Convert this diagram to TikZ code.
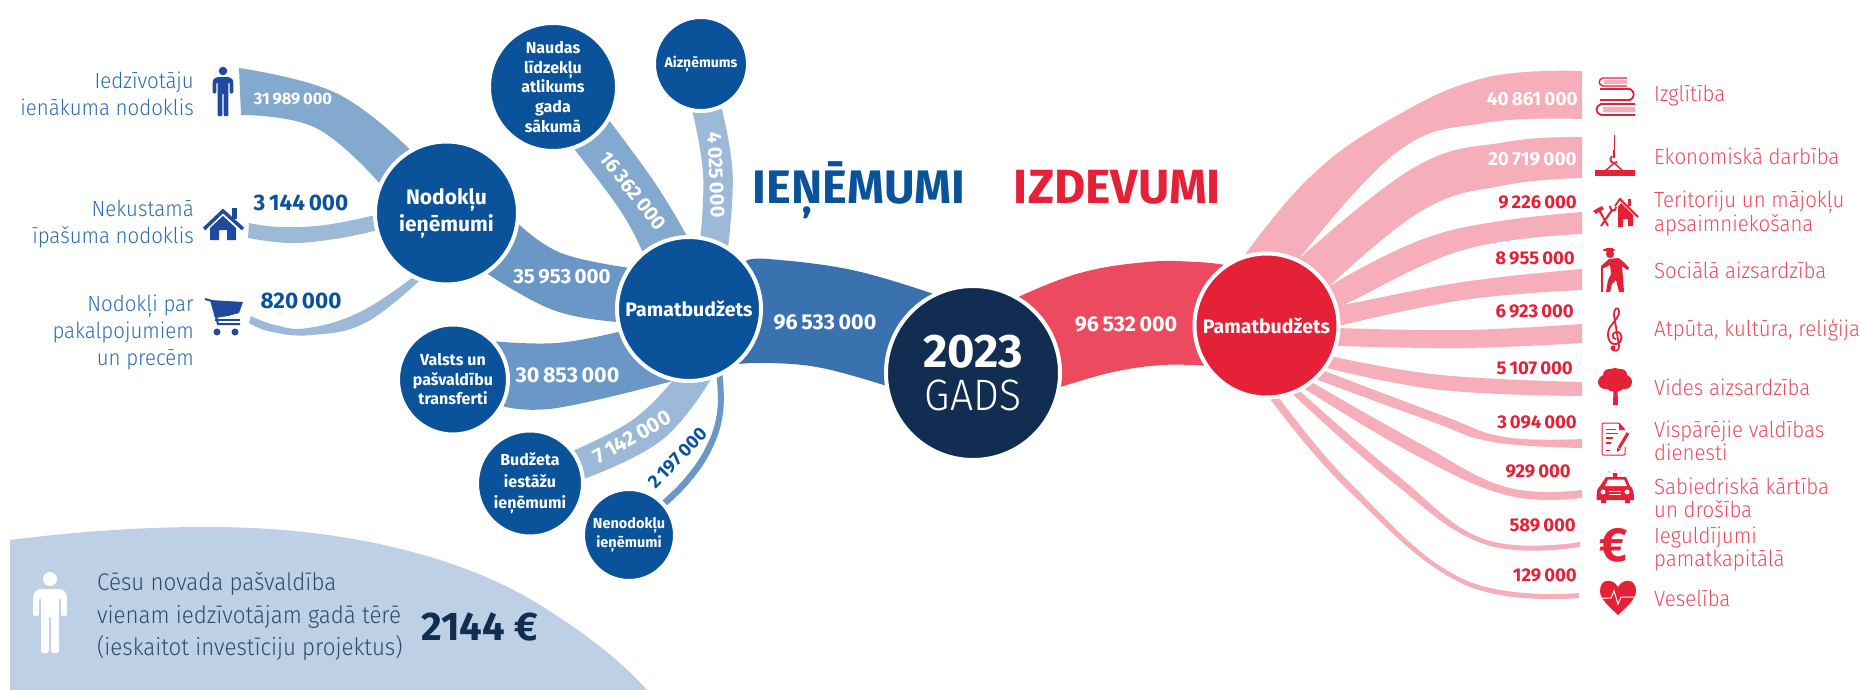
\documentclass[tikz,border=0pt]{standalone}
\usepackage{fontspec}
\setmainfont{Fira Sans}
\newfontfamily\lightf[FakeStretch=0.93]{Fira Sans Light}
\usetikzlibrary{backgrounds}
\definecolor{cdark}{HTML}{0A5299}
\definecolor{cnavy}{HTML}{112D52}
\definecolor{cred}{HTML}{E52138}
\definecolor{credm}{HTML}{EC4B5F}
\definecolor{cpink}{HTML}{F5AEBA}
\definecolor{cmain}{HTML}{3A72AF}
\definecolor{cmid}{HTML}{6A97C5}
\definecolor{clow}{HTML}{84A9CF}
\definecolor{cpale}{HTML}{9CBAD8}
\definecolor{cpanel}{HTML}{BDD0E5}
\definecolor{cicon}{HTML}{1F4AA0}
\definecolor{ctext}{HTML}{2A6CAE}
\definecolor{cptext}{HTML}{2F4A6E}
\newcommand{\fsz}[2]{\fontsize{#1}{#2}\selectfont}
\newcommand{\ribbon}[3]{\fill[#1] plot[smooth,tension=.7] coordinates {#2} -- plot[smooth,tension=.7] coordinates {#3} -- cycle;}
\newcommand{\persona}[4]{\begin{scope}[shift={(#1,#2)},scale=#3]
\fill[#4] (0,0) circle (7);
\fill[#4] (-9,10) -- (9,10) .. controls (14,10) and (17,14) .. (17,20) -- (17,35) .. controls (17,38) and (11,38) .. (11,35) -- (11,20) -- (9,20) -- (9,72) .. controls (9,75) and (1,75) .. (1,72) -- (1,38) -- (-1,38) -- (-1,72) .. controls (-1,75) and (-9,75) .. (-9,72) -- (-9,20) -- (-11,20) -- (-11,35) .. controls (-11,38) and (-17,38) .. (-17,35) -- (-17,20) .. controls (-17,14) and (-14,10) .. (-9,10) -- cycle;
\end{scope}}
\tikzset{
  x=1pt,y=-1pt,
  bub/.style={circle,draw=white,line width=4pt,fill=cdark,text=white,inner sep=0pt,align=center,font=\bfseries},
  bubr/.style={bub,fill=cred},
  numw/.style={text=white,font=\bfseries\fsz{19}{22},inner sep=0pt},
  numb/.style={text=cdark,font=\bfseries\fsz{22.5}{24},inner sep=0pt},
  numr/.style={text=cred,font=\bfseries\fsz{18.5}{22},inner sep=0pt,anchor=east},
  lab/.style={text=ctext,font=\lightf\fsz{22}{27},align=right,anchor=east,inner sep=0pt},
  labr/.style={text=credm,font=\lightf\fsz{22}{23},align=left,anchor=west,inner sep=0pt},
  redline/.style={draw=cred,line width=1.4pt},
}
\begin{document}
\begin{tikzpicture}
\useasboundingbox (0,0) rectangle (1861,690);
% bubbles
\node[bub,minimum size=143pt,font=\bfseries\fsz{21}{27}] (nod) at (446.5,213) {Nodokļu\\ieņēmumi};
\node[bub,minimum size=128pt,font=\bfseries\fsz{16}{19.6}] (nau) at (553,87) {Naudas\\līdzekļu\\atlikums\\gada\\sākumā};
\node[bub,minimum size=94pt,font=\bfseries\fsz{14}{16}] (aiz) at (701,64) {Aizņēmums};
\node[bub,minimum size=144pt,font=\bfseries\fsz{19.5}{22}] (pam) at (689,309) {Pamatbudžets};
\node[bub,minimum size=110pt,font=\bfseries\fsz{16}{19.5}] (val) at (453,379.5) {Valsts un\\pašvaldību\\transferti};
\node[bub,minimum size=106pt,font=\bfseries\fsz{16}{21.5}] (bud) at (530,483.5) {Budžeta\\iestāžu\\ieņēmumi};
\node[bub,minimum size=92pt,font=\bfseries\fsz{14.5}{19}] (nen) at (629,535) {Nenodokļu\\ieņēmumi};
\node[bub,fill=cnavy,minimum size=174pt] (gad) at (973,373) {};
\node[text=white,font=\bfseries\fsz{47}{50},inner sep=0pt] (gy) at (973,352) {2023};
\node[text=white,font=\lightf\fsz{44}{46},inner sep=0pt] (gg) at (973,395) {GADS};
\node[bubr,minimum size=144pt,font=\bfseries\fsz{19.5}{22}] (red) at (1266.5,325.5) {Pamatbudžets};
% free ends
\coordinate (a1) at (239,68); \coordinate (a2) at (241,115);
\coordinate (b1) at (249,223); \coordinate (b2) at (248,238);
\coordinate (c1) at (251,316); \coordinate (c2) at (249,323);
\foreach \i/\xx/\ya/\yb in {1/1582/71/119,2/1582/137/178,3/1582/212/234,4/1582/269/290,5/1582/324/343,6/1582/382/396,7/1582/439/448,8/1582/490/498,9/1580/542/547,10/1579/593/598}{
  \coordinate (e\i t) at (\xx,\ya); \coordinate (e\i b) at (\xx,\yb);
}
\begin{pgfonlayer}{background}
% panel
\fill[cpanel] (10,690) -- (10,540) .. controls (90,530) and (150,527) .. (210,527) .. controls (340,527) and (460,555) .. (540,605) .. controls (590,636) and (625,665) .. (647,690) -- cycle;
% left
\ribbon{clow}{(a1) (336,93) (nod.120)}{(nod.156) (316,128) (a2)}
\ribbon{cpale}{(b1) (280,227) (325,225) (nod.182)}{(nod.194) (335,239) (290,243) (b2)}
\ribbon{cpale}{(c1) (275,325) (308,328) (360,312) (nod.242)}{(nod.248) (365,323) (312,335) (272,332) (c2)}
\ribbon{cmid}{(nod.-9) (561,253) (pam.146)}{(pam.190) (553,310) (nod.-56)}
\ribbon{clow}{(nau.-31) (655,183) (pam.92)}{(pam.129) (620,210) (nau.-71)}
\ribbon{cpale}{(aiz.-100) (703,173) (pam.81.5)}{(pam.58.6) (732.6,173) (aiz.-65)}
\ribbon{cmid}{(val.42.6) (557,343) (pam.198)}{(pam.257) (557,408) (val.-28)}
\ribbon{cpale}{(bud.37.7) (632.5,420) (pam.257)}{(pam.287) (662,440) (bud.5)}
\ribbon{cmid}{(pam.292) (717,413) (706,447) (685,478) (nen.46.7)}{(nen.38.5) (691,481) (712,449) (723,413) (pam.297)}
\ribbon{cmain}{(pam.40) (768,259) (852,270) (gad.117)}{(gad.188) (822,368) (771,363) (pam.-48)}
\ribbon{credm}{(gad.59.5) (1080,273) (1147,262) (1197,262) (red.125)}{(red.213) (1163,365) (1113,372) (gad.-9.6)}
% right
\ribbon{cpink}{(red.107) (1310,177) (1389,120) (1484,78) (e1t)}{(e1b) (1484,123) (1397,152) (red.64)}
\ribbon{cpink}{(red.64) (1415,167) (1506,142) (e2t)}{(e2b) (1506,185) (1423,210) (red.32)}
\ribbon{cpink}{(red.32) (1441,233) (e3t)}{(e3b) (1463,250) (1347,303) (red.18)}
\ribbon{cpink}{(red.18) (1347,304) (1463,282) (e4t)}{(e4b) (1463,300) (red.0)}
\ribbon{cpink}{(red.-2) (1463,330) (e5t)}{(e5b) (1463,348) (red.-16)}
\ribbon{cpink}{(red.-25) (1441,375) (e6t)}{(e6b) (1441,390) (red.-35)}
\ribbon{cpink}{(red.-38.6) (1441,415) (1505,437) (e7t)}{(e7b) (1493,442) (1430,421) (red.-47)}
\ribbon{cpink}{(red.-51.5) (1419,443) (1506,487) (e8t)}{(e8b) (1506,495) (1410,452) (red.-59)}
\ribbon{cpink}{(red.-63.6) (1397,475) (1484,539) (e9t)}{(e9b) (1484,544) (1390,480) (red.-69)}
\ribbon{cpink}{(red.-80) (1354,487) (1463,579) (e10t)}{(e10b) (1463,584) (1348,490) (red.-87)}
\end{pgfonlayer}
% left labels
\node[lab] (l1) at (194,93.5) {Iedzīvotāju\\ienākuma nodoklis};
\node[lab] (l2) at (194,224.5) {Nekustamā\\īpašuma nodoklis};
\node[lab] (l3) at (194,332) {Nodokļi par\\pakalpojumiem\\un precēm};
% numbers
\node[numw,font=\bfseries\fsz{16.5}{22}] (n1) at (293,99) {31\,989\,000};
\node[numb] (n2) at (301,203) {3\,144\,000};
\node[numb] (n3) at (301,301) {820\,000};
\node[numw,font=\bfseries\fsz{20.5}{24}] (n4) at (562,277) {35\,953\,000};
\node[numw,font=\bfseries\fsz{21.5}{24}] (n5) at (567.5,375) {30\,853\,000};
\node[numw,font=\bfseries\fsz{21.5}{24}] (n6) at (825,322) {96\,533\,000};
\node[numw,font=\bfseries\fsz{21.5}{24}] (n7) at (1126,324) {96\,532\,000};
\node[numw,rotate=30,font=\bfseries\fsz{21}{24}] (n8) at (632.5,437) {7\,142\,000};
\node[numb,rotate=46,font=\bfseries\fsz{18.5}{20}] (n9) at (677.5,458) {2\,197\,000};
\node[numw,rotate=-52,font=\bfseries\fsz{20}{24}] (n10) at (633,191) {16\,362\,000};
\node[numw,rotate=-87.5,font=\bfseries\fsz{20}{24}] (n11) at (716,175) {4\,025\,000};
% titles
\node[text=cdark,font=\bfseries\fsz{47}{50},inner sep=0pt,anchor=base] (t1) at (859,204) {IEŅĒMUMI};
\node[text=cred,font=\bfseries\fsz{48}{50},inner sep=0pt,anchor=base] (t2) at (1117.5,204) {IZDEVUMI};
% right numbers
\node[numw,anchor=east] (r1) at (1578,99) {40\,861\,000};
\node[numw,anchor=east] (r2) at (1577,159) {20\,719\,000};
\node[numr] (r3) at (1577,202) {9\,226\,000};
\node[numr] (r4) at (1575,258) {8\,955\,000};
\node[numr] (r5) at (1574,311) {6\,923\,000};
\node[numr] (r6) at (1573,368) {5\,107\,000};
\node[numr] (r7) at (1577,422) {3\,094\,000};
\node[numr] (r8) at (1571,471) {929\,000};
\node[numr] (r9) at (1576,525) {589\,000};
\node[numr] (r10) at (1577,575) {129\,000};
% right labels
\node[labr] (q1) at (1654,96) {Izglītība};
\node[labr] (q2) at (1654,156) {Ekonomiskā darbība};
\node[labr] (q3) at (1654,213) {Teritoriju un mājokļu\\apsaimniekošana};
\node[labr] (q4) at (1654,270) {Sociālā aizsardzība};
\node[labr] (q5) at (1654,330) {Atpūta, kultūra, reliģija};
\node[labr] (q6) at (1654,387) {Vides aizsardzība};
\node[labr] (q7) at (1654,440.5) {Vispārējie valdības\\dienesti};
\node[labr] (q8) at (1654,498) {Sabiedriskā kārtība\\un drošība};
\node[labr] (q9) at (1654,549) {Ieguldījumi\\pamatkapitālā};
\node[labr] (q10) at (1654,598) {Veselība};
% panel text
\node[text=cptext,font=\lightf\fsz{24}{32.5},align=left,anchor=west,inner sep=0pt] (pt) at (97,616.5) {Cēsu novada pašvaldība\\vienam iedzīvotājam gadā tērē\\(ieskaitot investīciju projektus)};
\node[text=cnavy,font=\bfseries\fsz{40}{42},inner sep=0pt] (pv) at (479.5,627) {2144 €};
% people
\persona{50}{579}{1}{white}
\persona{223}{71}{.61}{cicon}
% house icon
\draw[cicon,line width=3.5pt] (204,229) -- (223,211) -- (243,229);
\fill[cicon] (232,208) rectangle (237,219);
\fill[cicon] (210,228) -- (223,216) -- (236,228) -- (236,240) -- (227,240) -- (227,230) -- (219,230) -- (219,240) -- (210,240) -- cycle;
% cart icon
\draw[cicon,line width=2pt] (205,299) -- (212,301) -- (218,324) -- (240,324);
\fill[cicon] (210,300) -- (243,302) -- (239,313) -- (228,316) -- (215,318) -- cycle;
\draw[cicon,line width=2pt] (215,320) -- (240,320);
\fill[cicon] (217,332) circle (3.5) (235,332) circle (3.5);
% books icon
\draw[redline] (1627,78) -- (1603,78) .. controls (1598,79) and (1598,85) .. (1603,86) -- (1627,86);
\fill[cpink] (1604,80) rectangle (1627,84);
\draw[redline,line width=1.8pt] (1600,89) -- (1630,89) .. controls (1635,91) and (1635,98) .. (1630,100) -- (1600,100);
\draw[redline,line width=1.8pt] (1635,104) -- (1601,104) .. controls (1595,106) and (1595,113) .. (1601,115) -- (1635,115);
\fill[cpink] (1603,107) rectangle (1635,112);
% hook icon
\draw[redline,line width=.9pt] (1614,135) -- (1614,150);
\draw[redline] (1614,150) -- (1614,158);
\draw[redline,line width=1.8pt] (1612,156) .. controls (1608,160) and (1612,165) .. (1617,162);
\draw[redline] (1614,163) -- (1605,171) (1614,163) -- (1623,171);
\fill[cred] (1595,170) rectangle (1635,176);
% house and tools icon
\draw[redline,line width=1.8pt] (1615,206) -- (1620,199) -- (1638,217);
\fill[cred] (1628,199) rectangle (1631,206);
\fill[cred] (1618,227) -- (1618,207) -- (1621,203) -- (1633,215) -- (1633,226) -- (1628,226) -- (1628,219) -- (1623,219) -- (1623,227) -- cycle;
\draw[cred,line width=2pt] (1598,208) -- (1608,226) (1612,210) -- (1601,226);
\fill[cred] (1593,211) -- (1602,206) -- (1604,209) -- (1596,214) -- cycle;
\draw[cred,line width=2pt] (1610,206) .. controls (1610,212) and (1616,212) .. (1616,207);
% old man icon
\fill[cred] (1610,254) circle (4);
\fill[cred] (1609,250) ellipse (6.5 and 1.5);
\fill[cred] (1606,248) rectangle (1613,251);
\fill[cred] (1609,259) -- (1618,258) .. controls (1622,260) and (1626,264) .. (1629,268) -- (1627,270) -- (1622,266) -- (1623,278) -- (1624,292) -- (1619,292) -- (1616,280) -- (1612,284) -- (1610,292) -- (1606,292) -- (1608,280) -- (1611,274) -- (1610,265) -- (1602,269) -- (1601,266) -- cycle;
\draw[redline] (1602,267) -- (1602,292);
% clef icon
\draw[redline,line width=1.8pt] (1616,339) .. controls (1612,339) and (1611,333) .. (1616,332) .. controls (1623,331) and (1624,343) .. (1616,344) .. controls (1608,345) and (1606,334) .. (1610,327) .. controls (1614,321) and (1620,316) .. (1619,311) .. controls (1618,306) and (1614,308) .. (1614,315) -- (1619,346) .. controls (1620,352) and (1612,352) .. (1612,348);
\fill[cred] (1613,348) circle (2.5);
% tree icon
\fill[cred] (1615,380) circle (12) (1605,382) circle (7) (1625,382) circle (7) (1609,375) circle (6) (1621,375) circle (6);
\fill[cred] (1613.5,388) -- (1617.5,388) -- (1618,405) -- (1613,405) -- cycle;
% document icon
\draw[redline,line width=1pt,rounded corners=1pt] (1625,430) -- (1619,423) -- (1602,423) -- (1602,455) -- (1625,455) -- (1625,447);
\fill[cred] (1619,423) -- (1625,430) -- (1619,430) -- cycle;
\draw[cred,line width=1pt] (1606,429) -- (1616,429) (1606,433) -- (1618,433);
\draw[cred,line width=1.4pt] (1606,438) -- (1613,438) (1606,443) -- (1611,443);
\draw[cred,line width=1pt] (1606,450) -- (1610,450);
\draw[cred,line width=3pt] (1628,433) -- (1619,448);
\fill[cred] (1617.3,447.5) -- (1620.7,449.5) -- (1617,452) -- cycle;
% police car icon
\fill[cred] (1606,477) -- (1626,477) -- (1630,486) .. controls (1633,488) and (1634,492) .. (1634,500) -- (1630,500) -- (1630,503) -- (1625,503) -- (1625,500) -- (1606,500) -- (1606,503) -- (1601,503) -- (1601,500) -- (1596.5,500) .. controls (1596.5,492) and (1597,488) .. (1600,486) -- cycle;
\fill[white] (1608,479.5) -- (1624,479.5) -- (1627,486) -- (1605,486) -- cycle;
\fill[white] (1603,492) circle (2.5) (1627,492) circle (2.5);
\draw[white,line width=.7pt] (1609,491) -- (1621,491) (1609,494) -- (1621,494);
\fill[cred] (1613,473) rectangle (1617,477);
\draw[cpink,line width=.7pt] (1615,472) -- (1615,469) (1610,473) -- (1608,471) (1620,473) -- (1622,471);
% euro icon
\node[text=cred,font=\bfseries\fsz{48}{50},inner sep=0pt] (ieu) at (1614,545) {€};
% heart icon
\fill[cred] (1618,587) .. controls (1613,578) and (1600,578) .. (1600,591) .. controls (1600,600) and (1612,609) .. (1618,615) .. controls (1624,609) and (1636,600) .. (1636,591) .. controls (1636,578) and (1623,578) .. (1618,587) -- cycle;
\draw[white,line width=1pt] (1600,598) -- (1611,598) -- (1614,591) -- (1618,604) -- (1621,597) -- (1636,597);
\end{tikzpicture}
\end{document}
